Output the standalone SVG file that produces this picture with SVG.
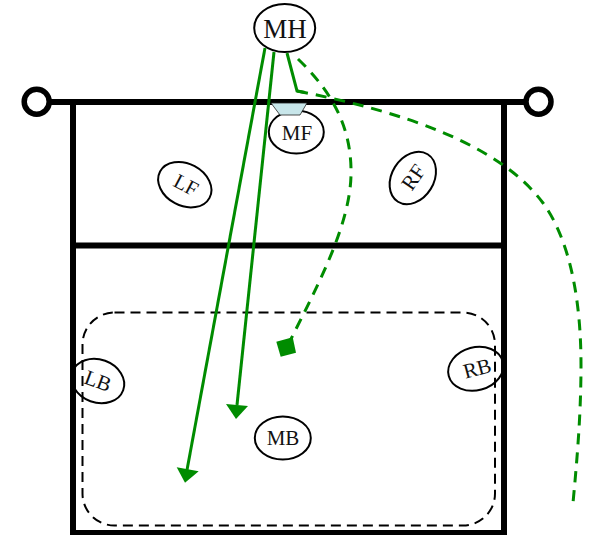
<svg xmlns="http://www.w3.org/2000/svg" width="590" height="535" viewBox="0 0 590 535">
<style>
.court{fill:none;stroke:#000;stroke-width:6}
.ring{fill:none;stroke:#000;stroke-width:5.500}
.zone{fill:none;stroke:#000;stroke-width:2;stroke-dasharray:10 6}
.p{fill:none;stroke:#000;stroke-width:2}
.t{font-family:"Liberation Serif",serif;font-size:21px;fill:#111;text-anchor:middle}
.g{fill:none;stroke:#008c00;stroke-width:3}
.d{stroke-dasharray:11 8}
.h{fill:#008c00}
</style>
<g id="court">
<path class="court" d="M73 102V533H504V102"/>
<path class="court" d="M73 245.500H504"/>
<path class="court" d="M48 102H526"/>
<circle class="ring" cx="36.700" cy="101.700" r="12.500"/>
<circle class="ring" cx="538.500" cy="101.700" r="12.500"/>
<rect class="zone" x="82.500" y="312.500" width="412.500" height="213" rx="32" ry="32"/>
</g>
<g id="MH"><ellipse class="p" cx="284.700" cy="28" rx="30.500" ry="24"/><text class="t" x="285" y="38" style="font-size:27px">MH</text></g>
<g id="MF"><ellipse class="p" cx="296.300" cy="132" rx="27.500" ry="21.500"/><path d="M271 103H307L300 115H280Z" fill="#c8e6ea" stroke="#222" stroke-width="0.800"/><text class="t" x="297" y="139.500">MF</text></g>
<g id="LF"><ellipse class="p" cx="184.800" cy="184.700" rx="28" ry="21" transform="rotate(28 184.800 184.700)"/><text class="t" x="186" y="192" transform="rotate(28 186 185)">LF</text></g>
<g id="RF"><ellipse class="p" cx="412.800" cy="178" rx="28" ry="21" transform="rotate(-58 412.800 178)"/><text class="t" x="413" y="184.500" transform="rotate(-55 413 177)">RF</text></g>
<g id="LB"><ellipse class="p" cx="97.800" cy="381" rx="27" ry="21.500" transform="rotate(20 97.800 381)"/><text class="t" x="98" y="388" transform="rotate(20 98 381)">LB</text></g>
<g id="RB"><ellipse class="p" cx="475.800" cy="368.800" rx="28" ry="21.500" transform="rotate(-15 475.800 368.800)"/><text class="t" x="477" y="375.500" transform="rotate(-15 477 368)">RB</text></g>
<g id="MB"><ellipse class="p" cx="282.800" cy="438" rx="28" ry="21.500"/><text class="t" x="283" y="445">MB</text></g>
<g id="connectors">
<path class="g" d="M265 48L187 470"/>
<path class="h" d="M176.700 467.300L198.700 471.300L185 482.700Z"/>
<path class="g" d="M274 52L237 405"/>
<path class="h" d="M226 404L248 406L236 419Z"/>
<path class="g" d="M287 53L297 91L305 92.500"/>
<path class="g d" d="M297 91C405 112 500 145 543 203C570 240 581 300 581 365C581 415 577 460 573 503"/>
<path class="g d" d="M298 59C330 90 352 125 351 175C350 225 318 285 290 341"/>
<path class="h" d="M276.300 341.700L292.700 337.300L296 352.700L280.700 356.700Z"/>
</g>
</svg>
